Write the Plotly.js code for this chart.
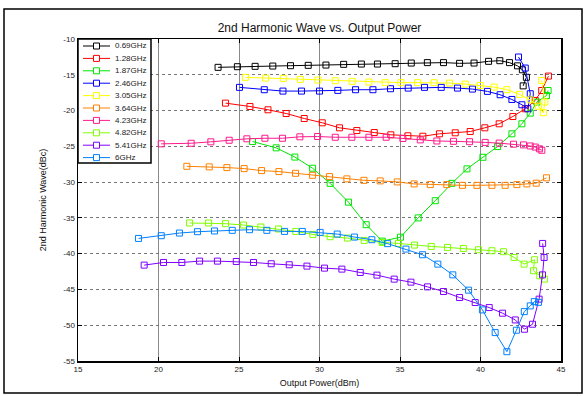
<!DOCTYPE html>
<html><head><meta charset="utf-8">
<script src="https://cdn.plot.ly/plotly-3.0.1.min.js"></script>
<style>html,body{margin:0;padding:0;background:#fff}#chart{width:585px;height:396px}</style>
</head><body><div id="chart"></div>
<script>
const seriesNames = ['0.69GHz','1.28GHz','1.87GHz','2.46GHz','3.05GHz','3.64GHz','4.23GHz','4.82GHz','5.41GHz','6GHz'];
const seriesColors = ['#000000','#ff0000','#00e600','#0000ff','#ffff00','#ff8000','#ff1a8c','#80ff00','#8000ff','#0080ff'];

const x069 = [23.7,24.9,26.0,27.1,28.2,29.3,30.4,31.5,32.6,33.6,34.7,35.7,36.7,37.7,38.7,39.6,40.5,41.2,41.8,42.3,42.6,42.85,42.65];
const y069 = [-13.96,-13.87,-13.82,-13.78,-13.73,-13.68,-13.64,-13.54,-13.5,-13.5,-13.45,-13.36,-13.3,-13.3,-13.4,-13.36,-13.12,-13.03,-13.3,-13.75,-14.3,-15.35,-16.55];

const x128 = [24.16,25.68,26.8,27.93,29.05,30.17,31.24,32.32,33.4,34.43,35.49,36.42,37.45,38.43,39.36,40.27,41.16,42.01,42.78,43.4,43.8,44.22];
const y128 = [-18.96,-19.43,-19.89,-20.41,-21.11,-21.71,-22.41,-22.79,-23.07,-23.39,-23.53,-23.59,-23.25,-23.11,-22.93,-22.41,-21.85,-20.83,-19.75,-18.59,-17.2,-15.18];

const x187 = [25.84,27.31,28.47,29.57,30.66,31.8,32.9,33.9,35.03,36.13,37.19,38.22,39.16,40.15,41.06,41.95,42.57,43.09,43.5,44.1,44.2];
const y187 = [-24.33,-25.21,-26.5,-28.06,-30.17,-32.8,-35.95,-38.25,-37.7,-35.0,-32.6,-30.17,-28.15,-26.53,-25.03,-23.25,-21.85,-20.36,-18.82,-17.9,-17.2];

const x246 = [25.03,26.57,27.73,28.88,30.0,31.14,32.24,33.32,34.41,35.51,36.52,37.56,38.57,39.5,40.43,41.22,41.95,42.57,42.94,43.09,42.78,42.36];
const y246 = [-16.76,-17.09,-17.28,-17.28,-17.28,-17.18,-17.09,-17.09,-16.95,-16.86,-16.76,-16.76,-16.86,-17.0,-17.32,-17.79,-18.45,-19.19,-19.75,-17.65,-14.06,-12.52];

const x305 = [25.4,26.65,27.75,28.82,29.9,30.98,32.03,33.07,34.08,35.06,36.09,37.12,38.07,39.05,39.98,40.85,41.64,42.42,43.09,43.6,43.9,44.0,43.8];
const y305 = [-15.36,-15.46,-15.5,-15.64,-15.74,-15.83,-15.92,-16.02,-16.1,-16.1,-16.1,-16.1,-16.16,-16.3,-16.5,-16.72,-17.08,-17.74,-18.5,-19.4,-20.3,-18.8,-15.8];

const x364 = [21.76,23.15,24.25,25.32,26.4,27.48,28.51,29.57,30.62,31.7,32.76,33.77,34.83,35.88,36.88,37.91,38.88,39.78,40.71,41.53,42.26,42.88,43.46,44.1];
const y364 = [-27.79,-27.87,-27.97,-28.11,-28.39,-28.53,-28.77,-29.05,-29.23,-29.55,-29.75,-29.83,-29.97,-30.25,-30.35,-30.35,-30.45,-30.45,-30.45,-30.45,-30.35,-30.25,-30.15,-29.4];

const x423 = [20.17,22.03,23.25,24.39,25.49,26.61,27.7,28.78,29.88,30.98,32.01,33.07,34.14,35.18,36.26,37.29,38.32,39.32,40.29,41.16,42.05,42.67,43.09,43.4,43.66,43.81];
const y423 = [-24.65,-24.57,-24.37,-24.15,-23.95,-23.87,-23.87,-23.67,-23.63,-23.73,-23.73,-23.73,-23.73,-23.9,-24.1,-24.25,-24.3,-24.35,-24.45,-24.55,-24.7,-24.8,-24.95,-25.1,-25.35,-25.55];

const x482 = [21.93,23.11,24.16,25.28,26.36,27.45,28.53,29.59,30.66,31.74,32.78,33.9,34.91,35.9,36.94,37.95,38.94,39.88,40.71,41.43,42.09,42.71,43.35,43.29,43.68,43.97];
const y482 = [-35.71,-35.71,-35.81,-36.0,-36.27,-36.55,-36.89,-37.31,-37.63,-37.82,-38.15,-38.43,-38.57,-38.8,-38.99,-39.13,-39.27,-39.45,-39.59,-39.73,-40.53,-41.46,-40.85,-42.39,-43.1,-43.56];

const x541 = [19.11,20.31,21.45,22.55,23.66,24.83,25.9,27.0,28.12,29.22,30.31,31.39,32.53,33.57,34.64,35.68,36.71,37.7,38.7,39.67,40.54,41.37,42.16,42.73,43.23,43.64,43.85,43.95,43.86];
const y541 = [-41.6,-41.23,-41.23,-41.04,-41.04,-41.09,-41.23,-41.41,-41.55,-41.74,-42.02,-42.16,-42.63,-43.0,-43.56,-43.98,-44.64,-45.29,-46.13,-46.83,-47.53,-48.32,-49.26,-50.56,-49.86,-46.36,-42.96,-40.53,-38.57];

const x600 = [18.76,20.17,21.3,22.42,23.48,24.58,25.65,26.73,27.83,28.93,30.04,31.1,32.17,33.25,34.23,35.37,36.4,37.35,38.28,39.26,40.12,40.91,41.64,42.23,42.72,43.09,43.34,43.6];
const y600 = [-37.87,-37.49,-37.12,-36.93,-36.83,-36.74,-36.65,-36.74,-36.89,-36.89,-37.03,-37.26,-37.68,-38.05,-38.6,-39.36,-40.15,-41.46,-42.96,-45.1,-47.86,-51.03,-53.7,-50.7,-48.1,-47.3,-46.7,-46.8];

const xTicks = [15,20,25,30,35,40,45];
const yTicks = [-55,-50,-45,-40,-35,-30,-25,-20,-15,-10];

const xs = [x069,x128,x187,x246,x305,x364,x423,x482,x541,x600];
const ys = [y069,y128,y187,y246,y305,y364,y423,y482,y541,y600];

const traces = seriesNames.map((n,i)=>({
  x: xs[i], y: ys[i], name: n, type:'scatter', mode:'lines+markers',
  line:{color:seriesColors[i], width:1},
  marker:{symbol:'square-open', size:6, color:seriesColors[i], line:{width:1, color:seriesColors[i]}},
  showlegend:false
}));

const PL=78, PR=561, PT=39, PB=361, W=585, H=396;
const px = v => (v-PL)/(PR-PL);
const py = v => (PB-v)/(PB-PT);

const shapes = [];
const annotations = [];
shapes.push({type:'rect', xref:'paper', yref:'paper', x0:px(4), x1:px(582), y0:py(9), y1:py(393), line:{color:'#000', width:1.5}});
shapes.push({type:'rect', xref:'paper', yref:'paper', x0:px(78), x1:px(151), y0:py(39), y1:py(163), line:{color:'#000', width:1.5}, fillcolor:'#fff'});
seriesNames.forEach((n,i)=>{
  const yy = 46 + i*12.4;
  shapes.push({type:'line', xref:'paper', yref:'paper', x0:px(83), x1:px(110), y0:py(yy), y1:py(yy), line:{color:seriesColors[i], width:1}});
  shapes.push({type:'rect', xref:'paper', yref:'paper', x0:px(93.5), x1:px(99.5), y0:py(yy-3), y1:py(yy+3), line:{color:seriesColors[i], width:1}, fillcolor:'#fff'});
  annotations.push({xref:'paper', yref:'paper', x:px(113), y:py(yy), xanchor:'left', yanchor:'middle', text:n, showarrow:false, font:{size:8, color:'#222', family:'Liberation Sans, Arial, sans-serif'}});
});

const layout = {
  width:W, height:H,
  margin:{l:PL, r:W-PR, t:PT, b:H-PB, pad:0},
  paper_bgcolor:'#fff', plot_bgcolor:'#fff',
  font:{family:'Liberation Sans, Arial, sans-serif', color:'#222', size:8},
  title:{text:'2nd Harmonic Wave vs. Output Power', font:{size:12, color:'#111'}, x:0.5, xref:'paper', y:1-28/H, yref:'container', yanchor:'middle'},
  xaxis:{range:[15,45], tickvals:xTicks, ticktext:xTicks.map(String), ticks:'inside', ticklen:4, tickcolor:'#000', tickwidth:1,
    showline:true, linecolor:'#000', linewidth:1.5, mirror:'ticks', showgrid:true, gridcolor:'#8a8a8a', gridwidth:1, zeroline:false,
    tickfont:{size:8}, title:{text:'Output Power(dBm)', font:{size:9, color:'#111'}, standoff:6}, automargin:false},
  yaxis:{range:[-55,-10], tickvals:yTicks, ticktext:yTicks.map(String), ticks:'inside', ticklen:4, tickcolor:'#000', tickwidth:1,
    showline:true, linecolor:'#000', linewidth:1.5, mirror:'ticks', showgrid:true, gridcolor:'#777', gridwidth:1, griddash:'dot', zeroline:false,
    tickfont:{size:8}, title:{text:'2nd Harmonic Wave(dBc)', font:{size:9, color:'#111'}, standoff:15}, automargin:false},
  shapes:shapes, annotations:annotations, showlegend:false
};
Plotly.newPlot('chart', traces, layout, {displayModeBar:false, staticPlot:true});
</script></body></html>
